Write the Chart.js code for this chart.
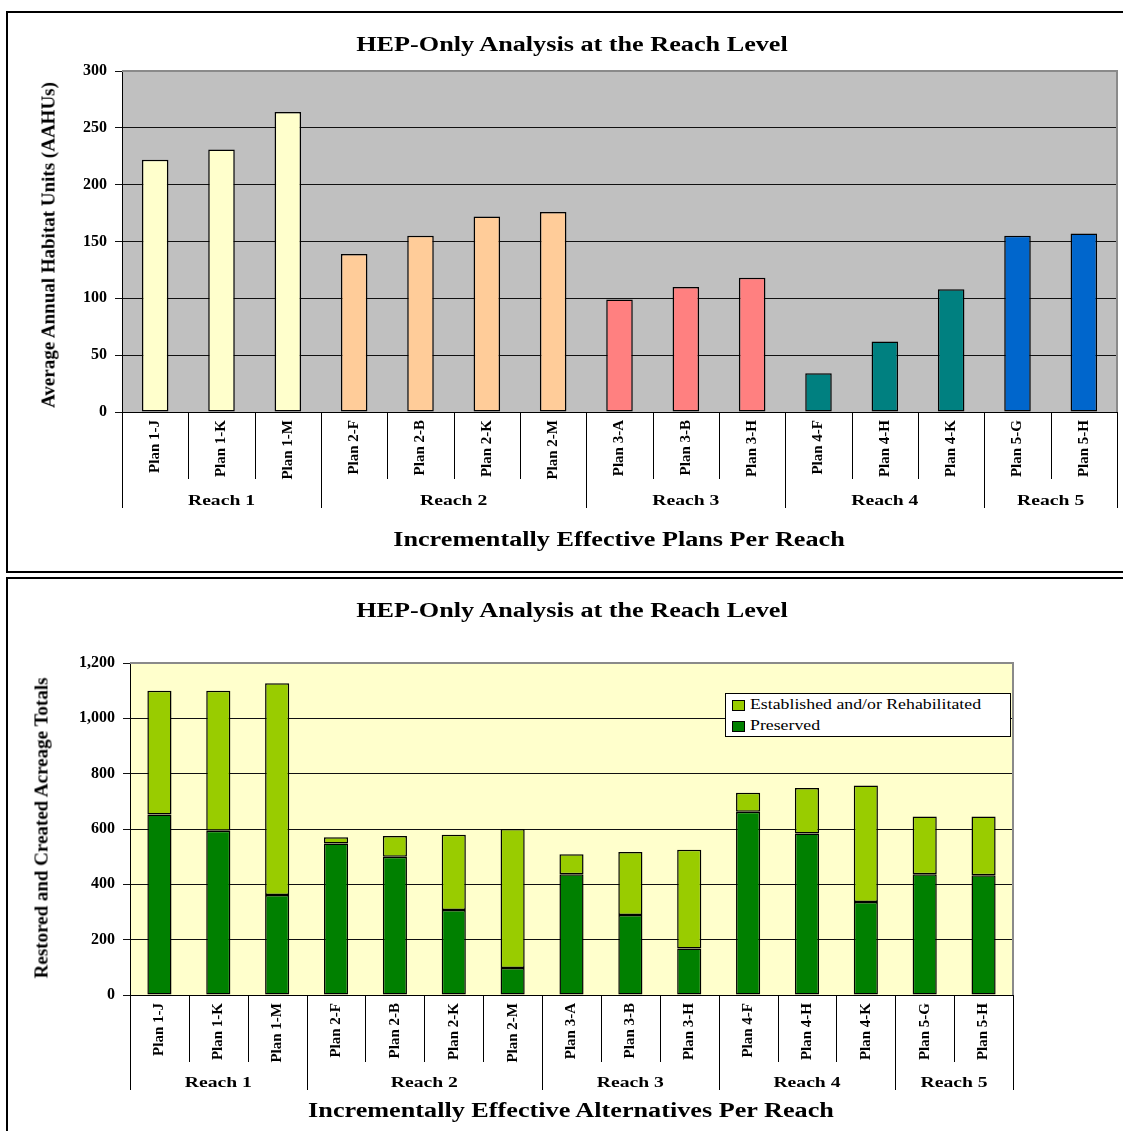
<!DOCTYPE html>
<html>
<head>
<meta charset="utf-8">
<script src="https://cdn.jsdelivr.net/npm/chart.js@4.4.1/dist/chart.umd.min.js"></script>
<style>
html,body{margin:0;padding:0;background:#fff;width:1123px;height:1131px;overflow:hidden;position:relative}
.box{position:absolute;border:2px solid #000;box-sizing:border-box}
canvas{position:absolute;left:0}
.t{position:absolute;white-space:nowrap;font-family:"Liberation Serif","Times New Roman",serif;color:#000}
.title{font-weight:bold;font-size:20px;line-height:20px;transform:translateX(-50%) scaleX(1.31)}
.ytitle{font-weight:bold;font-size:19px;line-height:19px;transform:translate(-50%,-50%) rotate(-90deg)}
.legend{position:absolute;left:725px;top:693px;width:286px;height:44px;border:1px solid #000;background:#fff;box-sizing:border-box}
.sw{position:absolute;width:13px;height:11px;border:1px solid #000;box-sizing:border-box}
.lt{font-size:15px;line-height:15px;transform-origin:0 0;transform:scaleX(1.185)}
</style>
</head>
<body>
<div class="box" style="left:6px;top:11px;width:1200px;height:562px"></div>
<div class="box" style="left:6px;top:577px;width:1200px;height:600px"></div>

<canvas id="c1" width="1123" height="575" style="top:0"></canvas>
<canvas id="c2" width="1123" height="554" style="top:577px"></canvas>

<div class="t title" style="left:572px;top:34px">HEP-Only Analysis at the Reach Level</div>
<div class="t title" style="left:619px;top:529px">Incrementally Effective Plans Per Reach</div>
<div class="t ytitle" style="left:48px;top:245px">Average Annual Habitat Units (AAHUs)</div>

<div class="t title" style="left:572px;top:600px">HEP-Only Analysis at the Reach Level</div>
<div class="t title" style="left:571px;top:1100px">Incrementally Effective Alternatives Per Reach</div>
<div class="t ytitle" style="left:41px;top:828px">Restored and Created Acreage Totals</div>

<div class="legend"></div>
<div class="sw" style="left:732px;top:700px;background:#99CC00"></div>
<div class="t lt" style="left:750px;top:697px">Established and/or Rehabilitated</div>
<div class="sw" style="left:732px;top:721px;background:#008000"></div>
<div class="t lt" style="left:750px;top:718px">Preserved</div>

<script>
// ---- data ----
const categories = ['Plan 1-J','Plan 1-K','Plan 1-M','Plan 2-F','Plan 2-B','Plan 2-K','Plan 2-M','Plan 3-A','Plan 3-B','Plan 3-H','Plan 4-F','Plan 4-H','Plan 4-K','Plan 5-G','Plan 5-H'];
const reachOf = ['Reach 1','Reach 1','Reach 1','Reach 2','Reach 2','Reach 2','Reach 2','Reach 3','Reach 3','Reach 3','Reach 4','Reach 4','Reach 4','Reach 5','Reach 5'];
const reachNames = ['Reach 1','Reach 2','Reach 3','Reach 4','Reach 5'];
const reachColors = ['#FFFFCC','#FFCC99','#FF8080','#008080','#0066CC'];
const aahus = [222, 231, 264, 139, 155, 172, 176, 99, 110, 118, 34, 62, 108, 155, 157];
const preserved = [652, 594, 361, 548, 500, 307, 98, 436, 289, 168, 662, 584, 336, 436, 433];
const established = [448, 506, 766, 22, 75, 272, 502, 73, 228, 357, 69, 164, 421, 209, 212];
const aahuTicks = {min: 0, max: 300, step: 50};
const acreTicks = {min: 0, max: 1200, step: 200};

const FONT = '"Liberation Serif", "Times New Roman", serif';

function groupsOf(arr){
  const g = [];
  arr.forEach((r,i)=>{
    if(!g.length || g[g.length-1].name !== r) g.push({name:r,start:i,end:i});
    else g[g.length-1].end = i;
  });
  return g;
}

const decor = {
  id: 'decor',
  beforeDraw(chart, args, o){
    const {ctx, chartArea:a} = chart;
    ctx.save();
    ctx.fillStyle = o.plotBg;
    ctx.fillRect(a.left, a.top, a.right - a.left, a.bottom - a.top);
    ctx.restore();
  },
  beforeDatasetsDraw(chart, args, o){
    const {ctx, chartArea:a} = chart;
    ctx.save();
    ctx.strokeStyle = o.frameColor;
    ctx.lineWidth = 2;
    ctx.beginPath();
    ctx.moveTo(a.left, a.top);
    ctx.lineTo(a.right, a.top);
    ctx.lineTo(a.right, a.bottom);
    ctx.stroke();
    ctx.restore();
  },
  afterDraw(chart, args, o){
    const ctx = chart.ctx, x = chart.scales.x;
    const n = chart.data.labels.length;
    const b = i => i === 0 ? x.left : (i === n ? x.right : (x.getPixelForValue(i-1) + x.getPixelForValue(i)) / 2);
    const groups = groupsOf(reachOf);
    const starts = new Set(groups.map(g => g.start));
    starts.add(n);
    ctx.save();
    ctx.strokeStyle = '#000';
    ctx.lineWidth = 1;
    for(let i = 0; i <= n; i++){
      const px = Math.round(b(i)) + 0.5;
      ctx.beginPath();
      ctx.moveTo(px, x.top);
      ctx.lineTo(px, starts.has(i) ? o.reachEnd : o.planEnd);
      ctx.stroke();
    }
    ctx.fillStyle = '#000';
    ctx.font = 'bold 15px ' + FONT;
    ctx.textAlign = 'center';
    ctx.textBaseline = 'alphabetic';
    groups.forEach(g => {
      const cx = (b(g.start) + b(g.end + 1)) / 2;
      ctx.save();
      ctx.translate(cx, o.reachBase);
      ctx.scale(1.31, 1);
      ctx.fillText(g.name, 0, 0);
      ctx.restore();
    });
    ctx.restore();
  }
};

const xTickFont = {family: FONT, size: 15, weight: 'bold'};
const yTickFont = {family: FONT, size: 16, weight: 'bold'};

function xScale(){
  return {
    grid: {display: false, drawTicks: false},
    border: {display: true, color: '#000', width: 1},
    ticks: {autoSkip: false, minRotation: 90, maxRotation: 90, padding: 8, color: '#000', font: xTickFont},
    afterFit(s){ s.height = 100; }
  };
}

function yScale(t, width, stacked){
  return {
    stacked: stacked,
    min: t.min, max: t.max,
    ticks: {stepSize: t.step, padding: 8, color: '#000', font: yTickFont},
    grid: {
      color: c => (c.tick && c.tick.value === t.max) ? '#8a8a8a' : '#111',
      tickColor: '#111',
      tickLength: 7,
      lineWidth: 1
    },
    border: {display: true, color: '#000', width: 1},
    afterFit(s){ s.width = width; }
  };
}

new Chart(document.getElementById('c1'), {
  type: 'bar',
  data: {
    labels: categories,
    datasets: [{
      label: 'AAHUs',
      data: aahus,
      backgroundColor: reachOf.map(r => reachColors[reachNames.indexOf(r)]),
      borderColor: '#000',
      borderWidth: 1.5,
      borderSkipped: false,
      barPercentage: 0.40,
      categoryPercentage: 1.0
    }]
  },
  options: {
    responsive: false,
    animation: false,
    devicePixelRatio: 1,
    layout: {padding: {left: 0, top: 71, right: 6, bottom: 63}},
    plugins: {
      legend: {display: false},
      tooltip: {enabled: false},
      title: {display: false},
      decor: {plotBg: '#C0C0C0', frameColor: '#8a8a8a', planEnd: 479, reachEnd: 508, reachBase: 505}
    },
    scales: {
      x: xScale(),
      y: yScale(aahuTicks, 122, false)
    }
  },
  plugins: [decor]
});

new Chart(document.getElementById('c2'), {
  type: 'bar',
  data: {
    labels: categories,
    datasets: [
      {
        label: 'Preserved',
        data: preserved,
        backgroundColor: '#008000',
        borderColor: '#000',
        borderWidth: 1.5,
        borderSkipped: false,
        barPercentage: 0.41,
        categoryPercentage: 1.0
      },
      {
        label: 'Established and/or Rehabilitated',
        data: established,
        backgroundColor: '#99CC00',
        borderColor: '#000',
        borderWidth: 1.5,
        borderSkipped: false,
        barPercentage: 0.41,
        categoryPercentage: 1.0
      }
    ]
  },
  options: {
    responsive: false,
    animation: false,
    devicePixelRatio: 1,
    layout: {padding: {left: 0, top: 86, right: 110, bottom: 36}},
    plugins: {
      legend: {display: false},
      tooltip: {enabled: false},
      title: {display: false},
      decor: {plotBg: '#FFFFCC', frameColor: '#8a8a8a', planEnd: 485, reachEnd: 513, reachBase: 510}
    },
    scales: {
      x: Object.assign(xScale(), {stacked: true}),
      y: yScale(acreTicks, 130, true)
    }
  },
  plugins: [decor]
});
</script>
</body>
</html>
